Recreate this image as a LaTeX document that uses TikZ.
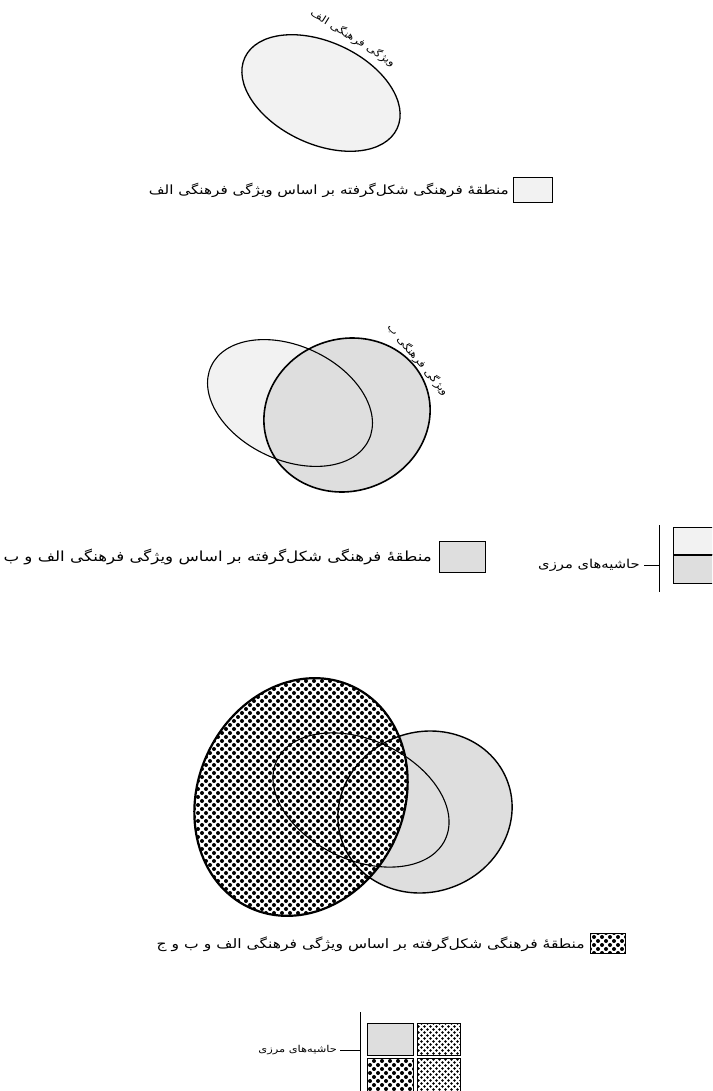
\documentclass[tikz,border=0pt]{standalone}
\usepackage{fontspec}
\newfontfamily\farsi[Script=Arabic,FakeStretch=1.2]{DejaVu Sans}
\TeXXeTstate=1
\usetikzlibrary{patterns}

\pgfdeclarepatternformonly{bigdots}{\pgfqpoint{-1pt}{-1pt}}{\pgfqpoint{9pt}{9pt}}{\pgfqpoint{8pt}{8pt}}{%
  \pgfpathcircle{\pgfqpoint{2pt}{2pt}}{2pt}%
  \pgfpathcircle{\pgfqpoint{6pt}{6pt}}{2pt}%
  \pgfusepath{fill}}
\pgfdeclarepatternformonly{smalldots}{\pgfqpoint{-1pt}{-1pt}}{\pgfqpoint{7pt}{7pt}}{\pgfqpoint{6pt}{6pt}}{%
  \pgfpathcircle{\pgfqpoint{1.5pt}{1.5pt}}{1.3pt}%
  \pgfpathcircle{\pgfqpoint{4.5pt}{4.5pt}}{1.3pt}%
  \pgfusepath{fill}}

\newcommand{\fa}[1]{{\farsi\beginR #1\endR}}

\begin{document}
\begin{tikzpicture}[x=1pt,y=-1pt,
  legtext/.style={anchor=east,inner sep=0pt,font=\fontsize{12.7}{15}\selectfont},
  featlabel/.style={inner sep=0pt,font=\fontsize{10}{12}\selectfont},
  keybox/.style={draw,line width=0.8pt,inner sep=0pt},
  faint/.style={fill=black!5},
  shade/.style={fill=black!13}]
\clip (0,0) rectangle (712,1091);
\fill[white] (0,0) rectangle (712,1091);

\filldraw[faint,draw=black,line width=1.3pt,rotate around={-25:(321,93)}] (321,93) ellipse [x radius=84,y radius=51];
\node[featlabel,rotate=-32] (featA) at (353,38) {\fa{ویژگی فرهنگی الف}};
\node[keybox,faint,minimum width=39pt,minimum height=25pt] (boxA) at (532.5,190) {};
\node[legtext] (legA) at (509,190) {\fa{منطقهٔ فرهنگی شکل‌گرفته بر اساس ویژگی فرهنگی الف}};

\fill[faint,rotate around={-25:(290,403)}] (290,403) ellipse [x radius=87,y radius=57];
\filldraw[shade,draw=black,line width=1.6pt,rotate around={20:(347,415)}] (347,415) ellipse [x radius=84,y radius=76];
\draw[line width=1.1pt,rotate around={-25:(290,403)}] (290,403) ellipse [x radius=87,y radius=57];
\node[featlabel,rotate=-50] (featB) at (418,360) {\fa{ویژگی فرهنگی ب}};
\node[keybox,shade,minimum width=46pt,minimum height=31pt] (boxAB) at (462,557) {};
\node[legtext,font=\fontsize{13.9}{16}\selectfont] (legAB) at (432,557) {\fa{منطقهٔ فرهنگی شکل‌گرفته بر اساس ویژگی فرهنگی الف و ب}};

\node[legtext,font=\fontsize{12.3}{15}\selectfont] (margAB) at (640,565) {\fa{حاشیه‌های مرزی}};
\coordinate (barAB1) at (659,525);
\coordinate (barAB2) at (659,592);
\draw[line width=0.8pt] (barAB1) -- (barAB2);
\draw[line width=0.8pt] ([xshift=4pt]margAB.east) -- (margAB.east -| barAB1);
\node[keybox,faint,anchor=north west,minimum width=50pt,minimum height=27pt] (topAB) at (673,527) {};
\node[keybox,shade,anchor=north west,minimum width=50pt,minimum height=29pt] (botAB) at (673,554) {};
\draw[line width=1.8pt] (topAB.south west) -- (topAB.south east);

\fill[shade,rotate around={20:(425,812)}] (425,812) ellipse [x radius=88,y radius=80];
\fill[white,rotate around={65:(301,797)}] (301,797) ellipse [x radius=122,y radius=103];
\fill[pattern=bigdots,rotate around={65:(301,797)}] (301,797) ellipse [x radius=122,y radius=103];
\draw[line width=1.1pt,rotate around={-25:(361,800)}] (361,800) ellipse [x radius=93,y radius=60];
\draw[line width=1.4pt,rotate around={20:(425,812)}] (425,812) ellipse [x radius=88,y radius=80];
\draw[line width=2.2pt,rotate around={65:(301,797)}] (301,797) ellipse [x radius=122,y radius=103];
\node[keybox,pattern=bigdots,minimum width=35pt,minimum height=20pt] (boxABC) at (607.5,943) {};
\node[legtext,font=\fontsize{13}{15}\selectfont] (legABC) at (585,944) {\fa{منطقهٔ فرهنگی شکل‌گرفته بر اساس ویژگی فرهنگی الف و ب و ج}};

\node[legtext,font=\fontsize{9.5}{12}\selectfont] (margABC) at (337,1050) {\fa{حاشیه‌های مرزی}};
\coordinate (barABC1) at (360,1012);
\coordinate (barABC2) at (360,1091);
\draw[line width=0.8pt] (barABC1) -- (barABC2);
\draw[line width=0.8pt] ([xshift=3pt]margABC.east) -- (margABC.east -| barABC1);
\node[keybox,shade,anchor=north west,minimum width=46pt,minimum height=32pt] (keyB) at (367,1023) {};
\node[keybox,pattern=smalldots,anchor=north west,minimum width=43pt,minimum height=32pt] (keyC) at (417,1023) {};
\node[keybox,pattern=bigdots,anchor=north west,minimum width=46pt,minimum height=33pt] (keyBC) at (367,1058) {};
\node[keybox,pattern=smalldots,anchor=north west,minimum width=43pt,minimum height=33pt] (keyAC) at (417,1058) {};
\end{tikzpicture}
\end{document}
